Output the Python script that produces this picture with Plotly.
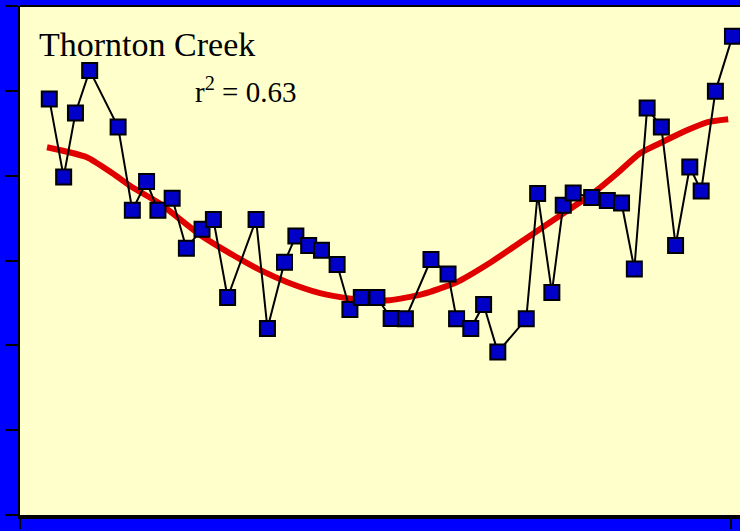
import plotly.graph_objects as go

# Observed series (decimal year, value)
years = [1952.06, 1953.07, 1953.9, 1954.9, 1956.9, 1957.9, 1958.9, 1959.7, 1960.7, 1961.7,
         1962.8, 1963.6, 1964.6, 1966.6, 1967.4, 1968.6, 1969.4, 1970.3, 1971.2, 1972.3,
         1973.2, 1974.0, 1975.1, 1976.1, 1977.1, 1978.9, 1980.1, 1980.7, 1981.7, 1982.6,
         1983.6, 1985.6, 1986.4, 1987.4, 1988.2, 1988.9, 1990.2, 1991.3, 1992.3, 1993.2,
         1994.1, 1995.1, 1996.1, 1997.1, 1997.9, 1998.9, 2000.1]
values = [49.03, 39.85, 47.39, 52.41, 45.74, 35.92, 39.30, 35.92, 37.34, 31.45,
          33.69, 34.83, 25.64, 34.83, 21.99, 29.80, 32.90, 31.77, 31.21, 29.53,
          24.23, 25.64, 25.64, 23.17, 23.12, 30.12, 28.42, 23.12, 21.99, 24.82,
          19.20, 23.12, 37.89, 26.23, 36.51, 37.96, 37.42, 37.07, 36.78, 29.01,
          47.97, 45.74, 31.77, 41.02, 38.20, 49.94, 56.42]

# Smoothed trend
trend_years = [1951.9, 1954.7, 1956.5, 1957.9, 1959.8, 1962.7, 1965.0, 1966.9, 1968.8, 1971.1,
               1973.0, 1974.4, 1976.0, 1978.3, 1980.7, 1983.0, 1985.4, 1987.8, 1990.3, 1992.0,
               1993.6, 1995.0, 1996.9, 1998.3, 1999.8]
trend_values = [43.35, 42.17, 40.28, 38.63, 36.75, 32.98, 30.62, 28.86, 27.44, 26.15,
                25.56, 25.32, 25.32, 26.03, 27.44, 29.68, 32.39, 35.10, 37.93, 40.28,
                42.64, 43.82, 45.35, 46.29, 46.64]

title_text = "Thornton Creek"
r2_text = "r<sup>2</sup> = 0.63"

fig = go.Figure()
fig.add_trace(go.Scatter(x=trend_years, y=trend_values, mode="lines",
                         line=dict(color="#E00000", width=6, shape="spline", smoothing=0.6),
                         hoverinfo="skip"))
fig.add_trace(go.Scatter(x=years, y=values, mode="lines+markers",
                         line=dict(color="black", width=2),
                         marker=dict(symbol="square", size=15, color="#0000C8",
                                     line=dict(color="black", width=2))))

fig.update_layout(
    width=740, height=531,
    margin=dict(l=20, r=0, t=6, b=16),
    paper_bgcolor="#0000FF",
    plot_bgcolor="#FFFFCC",
    showlegend=False,
    xaxis=dict(range=[1950, 2000.63], showgrid=False, zeroline=False,
               showline=True, linecolor="black", linewidth=4,
               ticks="outside", ticklen=10, tickwidth=2, tickcolor="black",
               tickvals=[1950, 2000], showticklabels=False),
    yaxis=dict(range=[0, 60], showgrid=False, zeroline=False,
               showline=True, linecolor="black", linewidth=2,
               ticks="outside", ticklen=13, tickwidth=2, tickcolor="black",
               tickvals=[0, 10, 20, 30, 40, 50, 60], showticklabels=False),
    shapes=[dict(type="line", xref="paper", yref="paper", x0=0, x1=1, y0=1, y1=1,
                 line=dict(color="black", width=2))],
    annotations=[
        dict(text=title_text, xref="paper", yref="paper", x=0.024, y=0.925,
             xanchor="left", yanchor="middle", showarrow=False,
             font=dict(family="Liberation Serif", size=34, color="black")),
        dict(text=r2_text, xref="paper", yref="paper", x=0.240, y=0.835,
             xanchor="left", yanchor="middle", showarrow=False,
             font=dict(family="Liberation Serif", size=29, color="black")),
    ],
)

fig.write_html("out.html", config={"displayModeBar": False},
               post_script="document.body.style.margin='0';document.body.style.overflow='hidden';")
